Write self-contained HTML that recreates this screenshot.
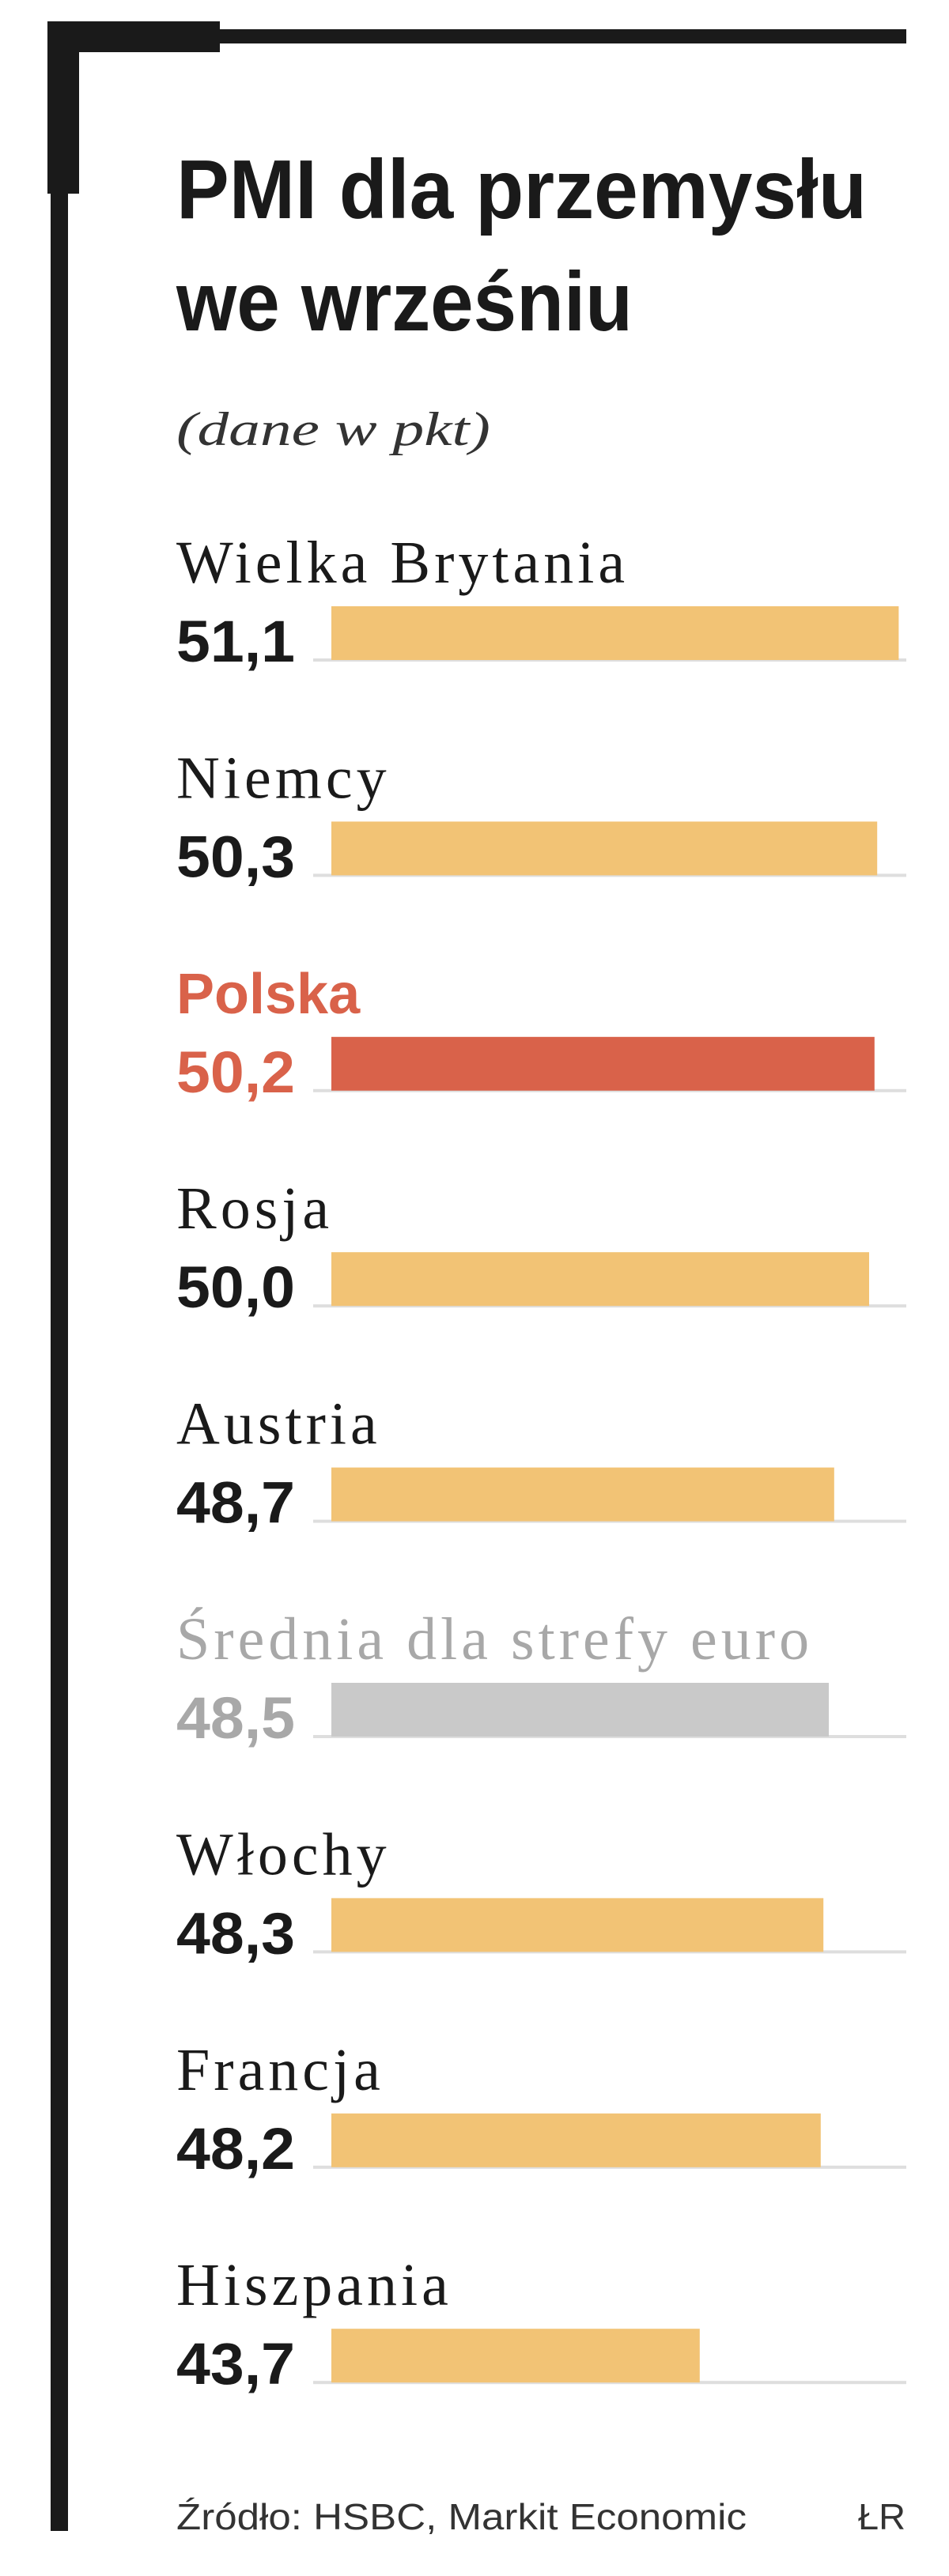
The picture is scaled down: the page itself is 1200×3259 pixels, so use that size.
<!DOCTYPE html>
<html><head><meta charset="utf-8">
<style>
html,body{margin:0;padding:0;background:#fff;}
svg{display:block;}
</style></head>
<body>
<svg id="chart" width="1200" height="3259" viewBox="0 0 1200 3259" xmlns="http://www.w3.org/2000/svg">
  <rect x="60" y="27" width="218" height="39" fill="#1a1a1a"/>
  <rect x="278" y="37" width="868" height="18" fill="#1a1a1a"/>
  <rect x="60" y="27" width="40" height="218" fill="#1a1a1a"/>
  <rect x="64" y="245" width="22" height="2957" fill="#1a1a1a"/>
  <text x="223" y="276" font-family="'Liberation Sans Narrow','Liberation Sans',sans-serif" font-weight="bold" font-size="106" fill="#1a1a1a" textLength="873" lengthAdjust="spacingAndGlyphs">PMI dla przemysłu</text>
  <text x="223" y="418" font-family="'Liberation Sans Narrow','Liberation Sans',sans-serif" font-weight="bold" font-size="106" fill="#1a1a1a" textLength="577" lengthAdjust="spacingAndGlyphs">we wrześniu</text>
  <text x="223" y="563" font-family="'Liberation Serif',serif" font-style="italic" font-size="60" fill="#333" textLength="397" lengthAdjust="spacingAndGlyphs">(dane w pkt)</text>
  <g id="rows"></g>
  <text x="223" y="3200" font-family="'Liberation Sans Narrow','Liberation Sans',sans-serif" font-size="46" fill="#333" textLength="721" lengthAdjust="spacingAndGlyphs">Źródło: HSBC, Markit Economic</text>
  <text x="1085" y="3200" font-family="'Liberation Sans Narrow','Liberation Sans',sans-serif" font-size="46" fill="#333" textLength="60" lengthAdjust="spacingAndGlyphs">ŁR</text>
</svg>
<script>
const categories = ["Wielka Brytania","Niemcy","Polska","Rosja","Austria","Średnia dla strefy euro","Włochy","Francja","Hiszpania"];
const values = [51.1, 50.3, 50.2, 50.0, 48.7, 48.5, 48.3, 48.2, 43.7];
const valueLabels = ["51,1","50,3","50,2","50,0","48,7","48,5","48,3","48,2","43,7"];
const highlight = ["normal","normal","poland","normal","normal","euro","normal","normal","normal"];

const NS = "http://www.w3.org/2000/svg";
const xMin = 30, xScale = 34.0, barX0 = 419;
function x(v){ return barX0 + (v - xMin) * xScale; }
const rowStep = 272.4, firstLabelY = 737;
function rowY(i){ return firstLabelY + i * rowStep; }
const colors = {normal:{bar:"#F2C375",label:"#1a1a1a",val:"#1a1a1a"},
                poland:{bar:"#D9624A",label:"#D9624A",val:"#D9624A"},
                euro:{bar:"#C9C9C9",label:"#A8A8A8",val:"#A8A8A8"}};
const g = document.getElementById("rows");
categories.forEach((c,i)=>{
  const y = rowY(i);
  const col = colors[highlight[i]];
  const base = document.createElementNS(NS,"rect");
  
  
  base.setAttribute("x",396); base.setAttribute("y",y+96);
  base.setAttribute("width",750); base.setAttribute("height",4);
  base.setAttribute("fill","#DEDEDE");
  g.appendChild(base);
  const bar = document.createElementNS(NS,"rect");
  
  
  bar.setAttribute("x",barX0); bar.setAttribute("y",y+30);
  bar.setAttribute("width",x(values[i])-barX0); bar.setAttribute("height",68);
  bar.setAttribute("fill",col.bar);
  g.appendChild(bar);
  const lab = document.createElementNS(NS,"text");
  
  
  lab.setAttribute("x",223); lab.setAttribute("y",y);
  if(highlight[i]==="poland"){
    lab.setAttribute("font-family","'Liberation Sans',sans-serif");
    lab.setAttribute("font-weight","bold");
    lab.setAttribute("font-size","72");
  } else {
    lab.setAttribute("font-family","'Liberation Serif',serif");
    lab.setAttribute("font-size","76");
    lab.setAttribute("letter-spacing","5");
  }
  lab.setAttribute("fill",col.label);
  lab.textContent = c;
  g.appendChild(lab);
  const val = document.createElementNS(NS,"text");
  
  
  val.setAttribute("x",223); val.setAttribute("y",y+100);
  val.setAttribute("font-family","'Liberation Sans',sans-serif");
  val.setAttribute("font-weight","bold");
  val.setAttribute("font-size","74");
  val.setAttribute("fill",col.val);
  val.setAttribute("textLength","150");
  val.setAttribute("lengthAdjust","spacingAndGlyphs");
  val.textContent = valueLabels[i];
  g.appendChild(val);
});
</script>
</body></html>
